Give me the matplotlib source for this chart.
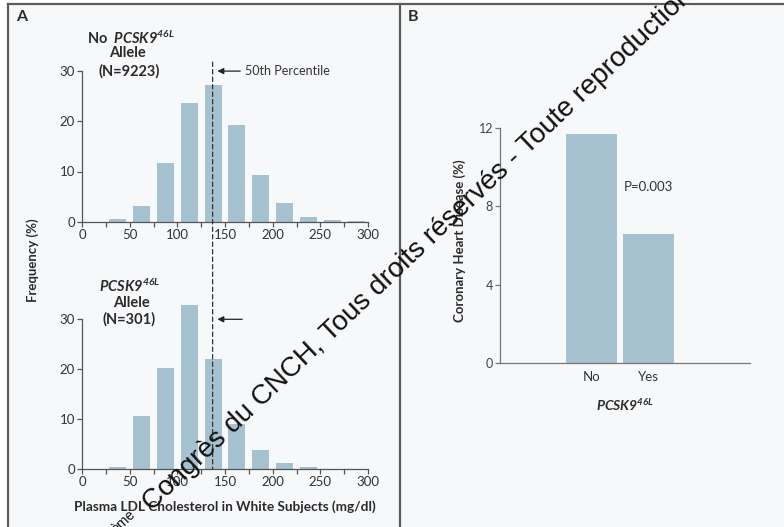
import matplotlib.pyplot as plt
from matplotlib.patches import Rectangle, ConnectionPatch
from matplotlib.lines import Line2D

# LDL bins (mg/dl), 25-wide, given by their centres
bin_centers = [37.5, 62.5, 87.5, 112.5, 137.5, 162.5, 187.5, 212.5, 237.5, 262.5, 287.5]
freq_no_allele = [0.6, 3.1, 11.6, 23.7, 27.2, 19.3, 9.3, 3.8, 1.0, 0.4, 0.2]
freq_allele = [0.4, 10.6, 20.3, 32.9, 22.1, 9.1, 3.8, 1.3, 0.4, 0.0, 0.0]
median_ldl = 137

groups = ["No", "Yes"]
chd_pct = [11.7, 6.6]

xticks_major = [0, 50, 100, 150, 200, 250, 300]
xticks_minor = [25, 75, 125, 175, 225, 275]
yticks_hist = [0, 10, 20, 30]
yticks_chd = [0, 4, 8, 12]

bar_color = "#a6c1cf"
bg = "#f7f8fa"
ink = "#2b2b2b"
axis_col = "#555555"

plt.rcParams["font.family"] = ["Lato", "DejaVu Sans"]
plt.rcParams["mathtext.fontset"] = "custom"
plt.rcParams["mathtext.rm"] = "Lato:italic:bold"
plt.rcParams["mathtext.it"] = "Lato:italic:bold"

W, H = 784, 527
fig = plt.figure(figsize=(7.84, 5.27), dpi=100)


def fx(px):
    return px / W


def fy(py):
    return 1 - py / H


# panel background + frame
fig.add_artist(Rectangle((fx(8), 0), 1 - fx(8), fy(4), transform=fig.transFigure,
                         facecolor=bg, edgecolor="none", zorder=-10))
for xs, ys in [([8, 8], [4, 530]), ([8, 790], [4, 4]), ([400, 400], [4, 530])]:
    fig.add_artist(Line2D([fx(x) for x in xs], [fy(y) for y in ys], transform=fig.transFigure,
                          color="#5c5c5c", lw=1.6, zorder=5))


def style_hist(ax, top):
    ax.set_facecolor("none")
    ax.set_xlim(0, 300)
    ax.set_ylim(0, top)
    for s in ["top", "right"]:
        ax.spines[s].set_visible(False)
    ax.spines["left"].set_bounds(0, 30)
    ax.spines["bottom"].set_bounds(0, 300)
    for s in ["left", "bottom"]:
        ax.spines[s].set_color(axis_col)
        ax.spines[s].set_linewidth(0.9)
    ax.set_xticks(xticks_major)
    ax.set_xticks(xticks_minor, minor=True)
    ax.set_yticks(yticks_hist)
    ax.tick_params(which="both", length=3.5, width=0.9, color=axis_col,
                   labelsize=9.5, labelcolor="#333333", pad=1.5)


# top histogram: no allele
ax1 = fig.add_axes([fx(82), fy(221.7), 286 / W, 33 * 5.02 / H])
ax1.bar(bin_centers, freq_no_allele, width=18, color=bar_color)
style_hist(ax1, 33)

# bottom histogram: allele carriers
ax2 = fig.add_axes([fx(82), fy(469.3), 286 / W, 35 * 5.0 / H])
ax2.bar(bin_centers, freq_allele, width=18, color=bar_color)
style_hist(ax2, 35)

# group labels
lab = dict(ha="center", va="center", fontsize=10.5, fontweight="bold", color=ink)
ax1.text(51, 36.6, r"No  $\mathrm{PCSK9}^{\mathrm{46L}}$", **lab)
ax1.text(47.5, 33.6, "Allele", **lab)
ax1.text(49, 30.0, "(N=9223)", **lab)
ax2.text(50, 36.5, r"$\mathrm{PCSK9}^{\mathrm{46L}}$", **lab)
ax2.text(51.4, 33.2, "Allele", **lab)
ax2.text(49.5, 29.9, "(N=301)", **lab)

# median line + arrows
fig.add_artist(ConnectionPatch(xyA=(median_ldl, 31.8), coordsA=ax1.transData,
                               xyB=(median_ldl, 0), coordsB=ax2.transData,
                               color="#333333", lw=0.9, linestyle=(0, (3.5, 2.5)), zorder=3))
arrow = dict(arrowstyle="-|>", color="#222222", lw=0.9, mutation_scale=9, shrinkA=0, shrinkB=0)
ax1.annotate("", xy=(142, 30), xytext=(166, 30), arrowprops=arrow)
ax1.text(171, 30, "50th Percentile", va="center", fontsize=9, color="#333333")
ax2.annotate("", xy=(142, 30), xytext=(168, 30), arrowprops=arrow)

fig.text(fx(33), fy(260), "Frequency (%)", rotation=90, ha="center", va="center",
         fontsize=9.5, fontweight="bold", color=ink)
fig.text(fx(225), fy(507), "Plasma LDL Cholesterol in White Subjects (mg/dl)",
         ha="center", va="center", fontsize=9.8, fontweight="bold", color=ink)

# panel B
ax3 = fig.add_axes([fx(500), fy(363), 250 / W, 12.5 * 19.58 / H])
ax3.set_facecolor("none")
ax3.bar(range(len(groups)), chd_pct, width=0.9, color=bar_color)
ax3.set_xlim(-1.62, 2.80)
ax3.set_ylim(0, 12.5)
for s in ["top", "right"]:
    ax3.spines[s].set_visible(False)
ax3.spines["left"].set_bounds(0, 12)
for s in ["left", "bottom"]:
    ax3.spines[s].set_color("#777777")
    ax3.spines[s].set_linewidth(0.9)
ax3.set_yticks(yticks_chd)
ax3.set_xticks(range(len(groups)))
ax3.set_xticklabels(groups)
ax3.tick_params(axis="y", length=3.5, width=0.9, color="#777777", labelsize=9,
                labelcolor="#444444", pad=1.5)
ax3.tick_params(axis="x", length=0, labelsize=9.5, labelcolor="#333333", pad=6)
ax3.text(1.0, 9.0, "P=0.003", ha="center", va="center", fontsize=9.5, color="#333333")
ax3.set_ylabel("Coronary Heart Disease (%)", fontsize=9.5, fontweight="bold", color=ink, labelpad=9)
fig.text(fx(625), fy(405), r"$\mathrm{PCSK9}^{\mathrm{46L}}$", ha="center", va="center",
         fontsize=10, color=ink)

fig.text(fx(22), fy(17), "A", ha="center", va="center", fontsize=11.5, fontweight="bold", color=ink)
fig.text(fx(413), fy(17), "B", ha="center", va="center", fontsize=11.5, fontweight="bold", color=ink)

# watermark across the figure
fig.text(fx(152), fy(512), "Congrès du CNCH, Tous droits réservés - Toute reproduction interdite",
         rotation=43.5, rotation_mode="anchor", ha="left", va="baseline",
         family=["Liberation Sans", "DejaVu Sans"], fontsize=20, color="#111111", zorder=6)
fig.text(fx(136), fy(515), "ème", rotation=43.5, rotation_mode="anchor", ha="right", va="baseline",
         family=["Liberation Sans", "DejaVu Sans"], fontsize=10, color="#111111", zorder=6)

fig.savefig("out.png", dpi=100, facecolor="white")
